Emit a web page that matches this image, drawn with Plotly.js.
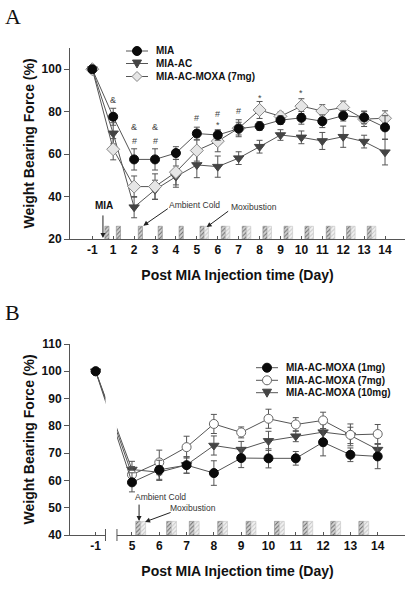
<!DOCTYPE html>
<html><head><meta charset="utf-8">
<script src="https://cdn.plot.ly/plotly-3.0.1.min.js"></script>
<style>html,body{margin:0;padding:0;background:#fff}#chart{width:414px;height:590px}</style>
</head><body><div id="chart"></div>
<script>
// ---------- Panel A data ----------
const daysA = [-1,1,2,3,4,5,6,7,8,9,10,11,12,13,14];
const miaA = [100,77.6,57.5,57.5,60.5,69.7,69.0,72.0,73.2,76.0,77.1,75.5,78.1,77.3,72.6];
const miaErrA = [1,4,5,5,3,3,2.5,3,2,2,3,3,2.5,3,5.5];
const acA = [100,69.8,35.0,43.2,49.4,54.9,54.1,58.1,63.5,69.0,67.9,66.2,68.2,65.9,60.9];
const acErrA = [1,5,5,4.5,5,6,5,3,3,2.5,3,4,5,3,6];
const moxaA = [100,62.3,44.7,44.7,51.5,61.7,66.1,72.2,80.8,77.8,82.6,80.3,82.0,76.5,76.9];
const moxaErrA = [1,5,5,6,6,5,5,4,4,2,3.5,3,3,3.5,3.5];
// treatment schedule markers (position on the day axis) and their heights
const coldA = [0.7,1.25,2.3,3.25,4.25,5.25,6.27,7.27,8.26,9.27,10.27,11.29,12.26,13.25];
const coldHA = [6,6,6,6,6,6,6,6,6,6,6,6,6,6];
const moxiA = [5.46,6.48,7.48,8.47,9.48,10.48,11.5,12.47,13.46];
const moxiHA = [6,6,6,6,6,6,6,6,6];
// significance marks
const sigX = [1,2,2,3,3,5,6,6,7,8,10];
const sigY = [85.4,72.9,66.3,72.9,66.3,76.9,78.9,73.8,80.4,86.6,88.6];
const sigT = ['&','&','#','&','#','#','#','*','#','*','*'];

// ---------- Panel B data ----------
const daysB = [-1,5,6,7,8,9,10,11,12,13,14];
const m1B = [100,59.3,63.9,65.6,62.7,68.2,68.1,68.1,74.0,69.4,68.8];
const m1ErrB = [1,3.5,3.5,3,4.5,3.5,3.5,2.5,5,2.5,4.5];
const m7B = [100,62.1,66.6,72.2,80.7,77.6,82.6,80.5,82.0,76.7,77.0];
const m7ErrB = [1,3,4.5,4,3.5,2,3.5,2.5,3,4,3.5];
const m10B = [100,64.0,63.0,65.7,72.8,71.3,74.5,76.2,77.7,76.5,71.3];
const m10ErrB = [1,3,3,3,3.5,3,3.5,2,3,3,2];
const coldB = [5.23,6.36,7.19,8.23,9.27,10.31,11.35,12.37,13.4];
const coldHB = [5,5,5,5,5,5,5,5,5];
const moxiB = [5.41,6.54,7.37,8.41,9.45,10.49,11.53,12.55,13.58];
const moxiHB = [5,5,5,5,5,5,5,5,5];

// axis placement of the pre-injection day (-1)
const prePosA = 0, prePosB = 3.67;
const posA = daysA.map(d => d < 0 ? prePosA : d);
const posB = daysB.map(d => d < 0 ? prePosB : d);

const W = 414, H = 590;
const px = x => x / W, py = y => 1 - y / H;
const FONT = 'Arial, "Liberation Sans", sans-serif';
const LINE = '#555';

function series(x, y, err, name, sym, size, fill, lcol, xa, ya) {
  return {
    type: 'scatter', mode: 'lines+markers', x: x, y: y, name: name,
    xaxis: xa, yaxis: ya, showlegend: false, cliponaxis: false,
    line: {color: LINE, width: 1},
    marker: {symbol: sym, size: size, color: fill, line: {color: lcol, width: 1}},
    error_y: {type: 'data', array: err, visible: true, color: LINE, thickness: 1, width: 3}
  };
}
function bars(x, h, base, dark, xa, ya, w) {
  return {
    type: 'bar', x: x, y: h, base: base, xaxis: xa, yaxis: ya, width: w,
    showlegend: false, hoverinfo: 'skip',
    marker: {color: dark ? '#c4c4c4' : '#ededed',
      line: {color: dark ? '#888' : '#c4c4c4', width: 0.6},
      pattern: {shape: '/', fgcolor: dark ? '#666' : '#c4c4c4', bgcolor: dark ? '#d0d0d0' : '#f0f0f0', size: 3, solidity: 0.3}}
  };
}

const data = [
  bars(coldA, coldHA, 20, true, 'x', 'y', 0.2),
  bars(moxiA, moxiHA, 20, false, 'x', 'y', 0.2),
  bars(coldB, coldHB, 40, true, 'x2', 'y2', 0.18),
  bars(moxiB, moxiHB, 40, false, 'x2', 'y2', 0.18),
  series(posA, acA, acErrA, 'MIA-AC', 'triangle-down', 9, '#444', '#444', 'x', 'y'),
  series(posA, moxaA, moxaErrA, 'MIA-AC-MOXA (7mg)', 'diamond', 10, '#e6e6e6', '#888', 'x', 'y'),
  series(posA, miaA, miaErrA, 'MIA', 'circle', 9, '#0a0a0a', '#0a0a0a', 'x', 'y'),
  series(posB, m10B, m10ErrB, 'MIA-AC-MOXA (10mg)', 'triangle-down', 9, '#444', '#444', 'x2', 'y2'),
  series(posB, m7B, m7ErrB, 'MIA-AC-MOXA (7mg)', 'circle', 9, '#ffffff', '#666', 'x2', 'y2'),
  series(posB, m1B, m1ErrB, 'MIA-AC-MOXA (1mg)', 'circle', 9, '#0a0a0a', '#0a0a0a', 'x2', 'y2')
];

const tickFont = {family: FONT, size: 12, color: '#111', weight: 700};
const titleFont = {family: FONT, size: 14, color: '#111', weight: 700};
const yTitle = 'Weight Bearing Force (%)';
function xax(range, tv, tt, anchor) {
  return {domain: [px(70), px(405)], range: range, anchor: anchor,
    tickvals: tv, ticktext: tt, ticks: 'inside', ticklen: 3, tickcolor: LINE,
    showline: true, linecolor: LINE, linewidth: 1, showgrid: false, zeroline: false,
    tickfont: tickFont, title: {text: 'Post MIA Injection time (Day)', font: titleFont, standoff: 13}};
}
function yax(range, dom, tv, anchor) {
  return {domain: dom, range: range, anchor: anchor, tickvals: tv,
    ticks: 'outside', ticklen: 5, tickcolor: LINE,
    showline: true, linecolor: LINE, linewidth: 1, showgrid: false, zeroline: false,
    tickfont: tickFont};
}

const annotations = [];
const shapes = [];
function paperText(x, y, text, font, angle) {
  annotations.push({xref: 'paper', yref: 'paper', x: px(x), y: py(y), xanchor: 'center', yanchor: 'middle',
    text: text, textangle: angle || 0, showarrow: false, font: font});
}
// y axis titles
paperText(28, 143.5, yTitle, titleFont, -90);
paperText(28, 439.5, yTitle, titleFont, -90);
// panel letters
const letterFont = {family: '"Liberation Serif", "Times New Roman", serif', size: 22, color: '#111'};
paperText(13, 16, 'A', letterFont);
paperText(12, 312, 'B', letterFont);
// significance marks
for (let i = 0; i < sigX.length; i++) {
  annotations.push({xref: 'x', yref: 'y', x: sigX[i], y: sigY[i], text: sigT[i], showarrow: false,
    font: {family: FONT, size: 9, color: '#444'}});
}
// event labels
const smallFont = {family: FONT, size: 8.5, color: '#333'};
function label(xa, ya, x, y, t, f) { annotations.push({xref: xa, yref: ya, x: x, y: y, text: t, showarrow: false, font: f}); }
function arrow(xa, ya, x, y, ax, ay) {
  annotations.push({xref: xa, yref: ya, x: x, y: y, ax: ax, ay: ay, text: '', showarrow: true,
    arrowhead: 2, arrowsize: 1, arrowwidth: 1, arrowcolor: '#222'});
}
label('x', 'y', 0.57, 35.8, 'MIA', {family: FONT, size: 10, color: '#111', weight: 700});
arrow('x', 'y', 0.51, 20.5, 0, -24);
label('x', 'y', 4.91, 35.8, 'Ambient Cold', smallFont);
arrow('x', 'y', 2.44, 26.3, 26, -18);
label('x', 'y', 7.74, 35.0, 'Moxibustion', smallFont);
arrow('x', 'y', 5.47, 25.6, 23, -17);
label('x2', 'y2', 6.03, 53.8, 'Ambient Cold', smallFont);
arrow('x2', 'y2', 5.26, 45.1, 0, -18);
label('x2', 'y2', 7.25, 49.9, 'Moxibustion', smallFont);
arrow('x2', 'y2', 5.48, 44.8, 27, -10);

// axis break in panel B
shapes.push({type: 'rect', xref: 'x2', yref: 'paper', x0: 4.03, x1: 4.45, y0: py(539), y1: py(346),
  fillcolor: '#fff', line: {width: 0}, layer: 'above'});
[4.03, 4.45].forEach(v => shapes.push({type: 'line', xref: 'x2', yref: 'paper', x0: v, x1: v,
  y0: py(529), y1: py(541), line: {color: LINE, width: 1}, layer: 'above'}));

// manual legends
function legendItem(x0, x1, cy, tx, text, kind) {
  shapes.push({type: 'line', xref: 'paper', yref: 'paper', x0: px(x0), x1: px(x1), y0: py(cy), y1: py(cy),
    line: {color: LINE, width: 1}});
  const cx = (x0 + x1) / 2, r = 4.5;
  if (kind === 'dot' || kind === 'open') {
    shapes.push({type: 'circle', xref: 'paper', yref: 'paper', x0: px(cx - r), x1: px(cx + r), y0: py(cy + r), y1: py(cy - r),
      fillcolor: kind === 'dot' ? '#0a0a0a' : '#fff', line: {color: kind === 'dot' ? '#0a0a0a' : '#666', width: 1}});
  } else if (kind === 'tri') {
    shapes.push({type: 'path', xref: 'paper', yref: 'paper',
      path: `M ${px(cx - r)},${py(cy - 3.5)} L ${px(cx + r)},${py(cy - 3.5)} L ${px(cx)},${py(cy + 4.5)} Z`,
      fillcolor: '#444', line: {color: '#444', width: 1}});
  } else {
    const d = 5;
    shapes.push({type: 'path', xref: 'paper', yref: 'paper',
      path: `M ${px(cx)},${py(cy - d)} L ${px(cx + d)},${py(cy)} L ${px(cx)},${py(cy + d)} L ${px(cx - d)},${py(cy)} Z`,
      fillcolor: '#e6e6e6', line: {color: '#888', width: 1}});
  }
  annotations.push({xref: 'paper', yref: 'paper', x: px(tx), y: py(cy), xanchor: 'left', yanchor: 'middle',
    text: text, showarrow: false, font: {family: FONT, size: 10, color: '#111', weight: 700}});
}
legendItem(126, 148, 51, 154, 'MIA', 'dot');
legendItem(126, 148, 63.5, 154, 'MIA-AC', 'tri');
legendItem(126, 148, 76.5, 154, 'MIA-AC-MOXA (7mg)', 'dia');
legendItem(256, 278, 367.7, 284, 'MIA-AC-MOXA (1mg)', 'dot');
legendItem(256, 278, 380.3, 284, 'MIA-AC-MOXA (7mg)', 'open');
legendItem(256, 278, 392.7, 284, 'MIA-AC-MOXA (10mg)', 'tri');

const tickLabelsA = daysA.map(String);
const tickLabelsB = daysB.map(String);

const layout = {
  width: W, height: H, margin: {l: 0, r: 0, t: 0, b: 0},
  paper_bgcolor: '#fff', plot_bgcolor: 'rgba(0,0,0,0)',
  font: {family: FONT, color: '#111'},
  barmode: 'overlay', showlegend: false,
  xaxis: xax([-1.066, 14.955], posA, tickLabelsA, 'y'),
  yaxis: yax([20, 110], [py(239), py(48)], [20, 40, 60, 80, 100], 'x'),
  xaxis2: xax([2.73, 15.0], posB, tickLabelsB, 'y2'),
  yaxis2: yax([40, 110], [py(535), py(344)], [40, 50, 60, 70, 80, 90, 100, 110], 'x2'),
  annotations: annotations, shapes: shapes
};
Plotly.newPlot('chart', data, layout, {displayModeBar: false, staticPlot: true});
</script></body></html>
